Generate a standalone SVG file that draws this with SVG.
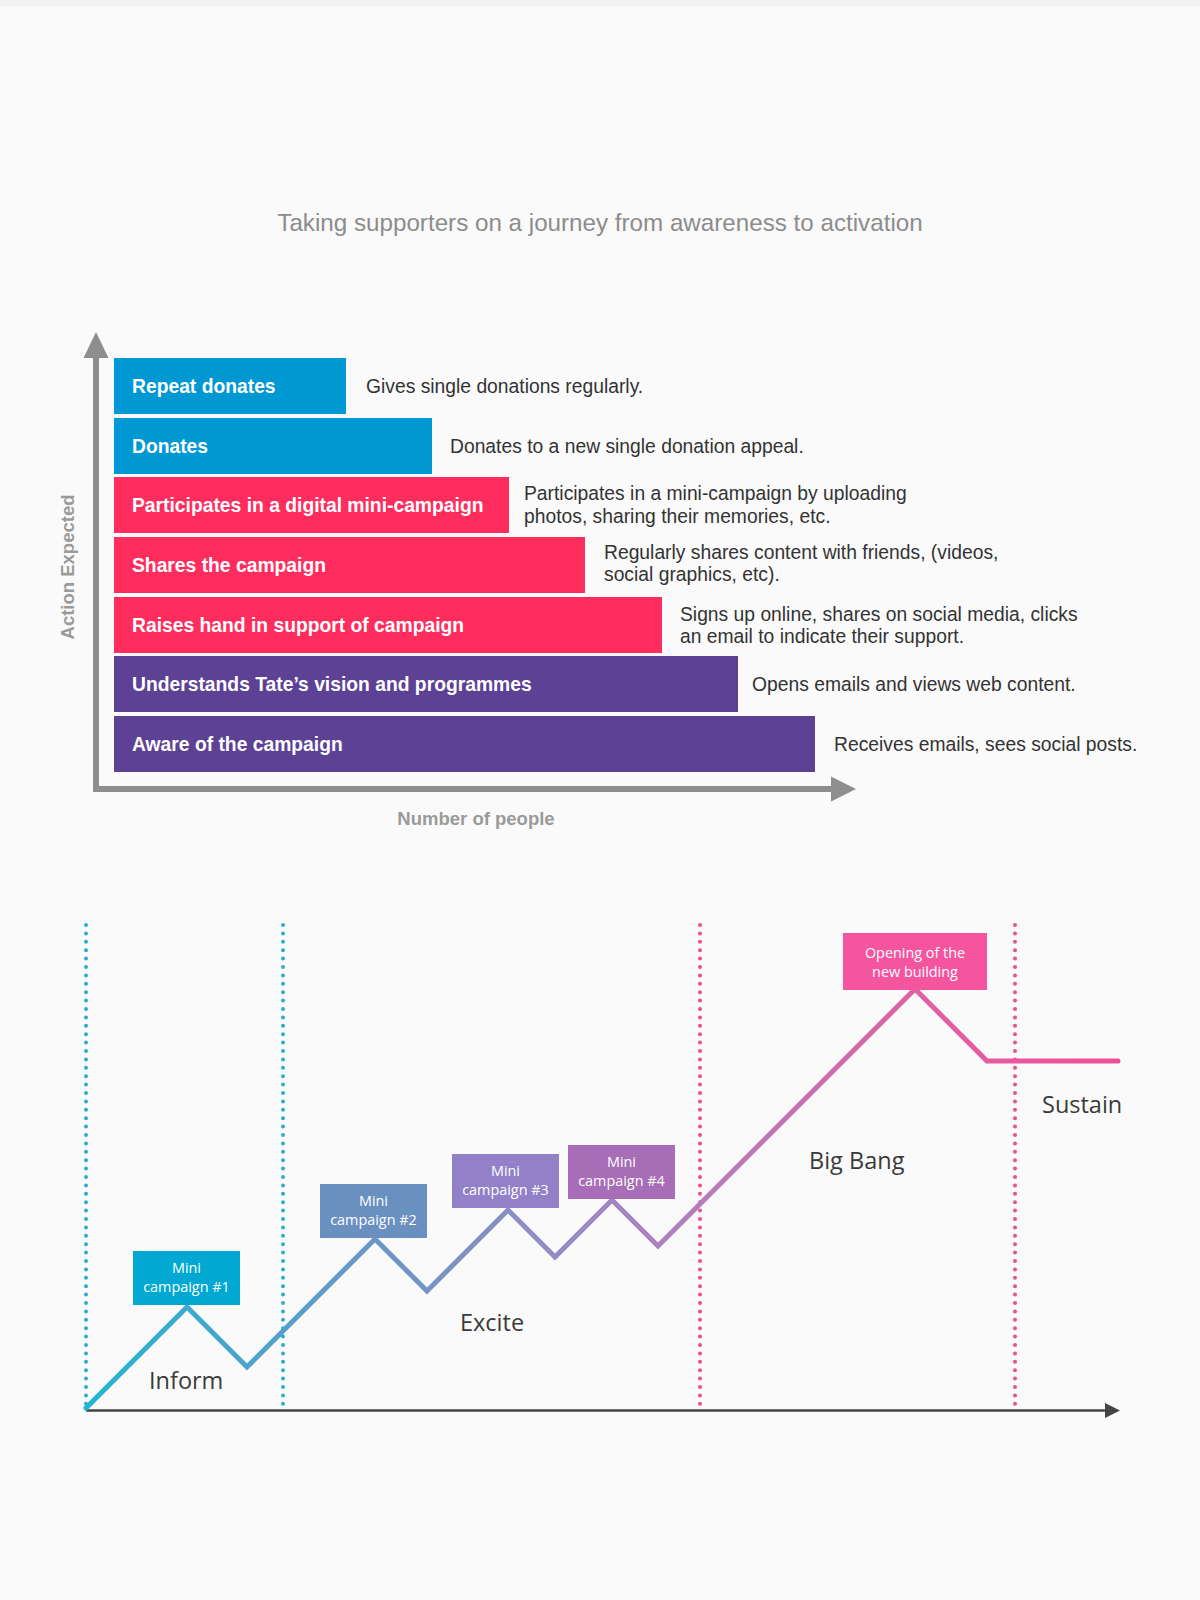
<svg xmlns="http://www.w3.org/2000/svg" width="1200" height="1600" viewBox="0 0 1200 1600">
<style>
.bar-label{font-family:"Liberation Sans",Arial,sans-serif;font-weight:bold;font-size:19.3px;fill:#ffffff}
.desc{font-family:"Liberation Sans",Arial,sans-serif;font-size:19.3px;fill:#333333}
.axis-label{font-family:"Liberation Sans",Arial,sans-serif;font-weight:bold;font-size:18.5px;fill:#9a9a9a}
.box-text{font-family:"Open Sans","Noto Sans",sans-serif;font-size:14.4px;fill:#ffffff;text-anchor:middle}
.phase{font-family:"Open Sans","Noto Sans",sans-serif;font-size:23.5px;fill:#3a3a3a}
.blue{fill:#0098d2}
.pink{fill:#ff2c5e}
.purple{fill:#5d4195}
.dots-teal{stroke:#2aaec8;stroke-width:4;stroke-linecap:round;stroke-dasharray:0 8.4;fill:none}
.dots-pink{stroke:#ef4d90;stroke-width:4;stroke-linecap:round;stroke-dasharray:0 8.4;fill:none}
</style>
<defs>
<linearGradient id="journey" gradientUnits="userSpaceOnUse" x1="86" y1="0" x2="1118" y2="0">
<stop offset="0" stop-color="#22b6d2"/>
<stop offset="0.28" stop-color="#6b96c6"/>
<stop offset="0.48" stop-color="#998ac4"/>
<stop offset="0.6" stop-color="#b57cbb"/>
<stop offset="0.82" stop-color="#e25fa3"/>
<stop offset="1" stop-color="#f04f96"/>
</linearGradient>
</defs>
<rect x="0" y="0" width="1200" height="1600" fill="#fafafa"/>
<rect x="0" y="0" width="1200" height="6" fill="#f2f2f2"/>

<text x="600" y="231" text-anchor="middle" style="font-family:'Liberation Sans',Arial,sans-serif;font-size:24.2px;fill:#8c8c8c">Taking supporters on a journey from awareness to activation</text>

<g id="axes-top">
<path d="M96 357 V789 H832" fill="none" stroke="#8e8e8e" stroke-width="6"/>
<polygon points="96,332 83.5,358 108.5,358" fill="#8e8e8e"/>
<polygon points="856,789 831,776.5 831,801.5" fill="#8e8e8e"/>
<text class="axis-label" transform="translate(74 567) rotate(-90)" text-anchor="middle">Action Expected</text>
<text class="axis-label" x="476" y="825" text-anchor="middle">Number of people</text>
</g>

<g id="bar-repeat-donates">
<rect class="blue" x="114" y="358" width="232" height="56"/>
<text class="bar-label" x="132" y="393">Repeat donates</text>
<text class="desc" x="366" y="393">Gives single donations regularly.</text>
</g>
<g id="bar-donates">
<rect class="blue" x="114" y="418" width="318" height="56"/>
<text class="bar-label" x="132" y="453">Donates</text>
<text class="desc" x="450" y="453">Donates to a new single donation appeal.</text>
</g>
<g id="bar-participates">
<rect class="pink" x="114" y="477" width="395" height="56"/>
<text class="bar-label" x="132" y="512">Participates in a digital mini-campaign</text>
<text class="desc" x="524" y="500">Participates in a mini-campaign by uploading</text>
<text class="desc" x="524" y="523">photos, sharing their memories, etc.</text>
</g>
<g id="bar-shares">
<rect class="pink" x="114" y="537" width="471" height="56"/>
<text class="bar-label" x="132" y="572">Shares the campaign</text>
<text class="desc" x="604" y="559">Regularly shares content with friends, (videos,</text>
<text class="desc" x="604" y="581">social graphics, etc).</text>
</g>
<g id="bar-raises-hand">
<rect class="pink" x="114" y="597" width="548" height="56"/>
<text class="bar-label" x="132" y="632">Raises hand in support of campaign</text>
<text class="desc" x="680" y="621">Signs up online, shares on social media, clicks</text>
<text class="desc" x="680" y="643">an email to indicate their support.</text>
</g>
<g id="bar-understands">
<rect class="purple" x="114" y="656" width="624" height="56"/>
<text class="bar-label" x="132" y="691">Understands Tate’s vision and programmes</text>
<text class="desc" x="752" y="691">Opens emails and views web content.</text>
</g>
<g id="bar-aware">
<rect class="purple" x="114" y="716" width="701" height="56"/>
<text class="bar-label" x="132" y="751">Aware of the campaign</text>
<text class="desc" x="834" y="751">Receives emails, sees social posts.</text>
</g>

<g id="phase-dividers">
<line class="dots-teal" x1="86" y1="925" x2="86" y2="1405"/>
<line class="dots-teal" x1="283" y1="925" x2="283" y2="1405"/>
<line class="dots-pink" x1="700" y1="925" x2="700" y2="1405"/>
<line class="dots-pink" x1="1015" y1="925" x2="1015" y2="1405"/>
</g>

<g id="connectors">
<line x1="86" y1="1410.5" x2="1107" y2="1410.5" stroke="#444444" stroke-width="2.5"/>
<polygon points="1120,1410.5 1105,1403 1105,1418" fill="#444444"/>
<polyline points="86,1408 187,1307 247,1367 375,1239 427,1291 508,1210 555,1257 612,1200 658,1246 915,989 987,1061 1118,1061" fill="none" stroke="url(#journey)" stroke-width="5" stroke-linejoin="miter" stroke-linecap="round"/>
</g>

<g id="mini-campaign-1">
<rect x="133" y="1251" width="107" height="54" fill="#00a8d2"/>
<text class="box-text" x="186.5" y="1273">Mini</text>
<text class="box-text" x="186.5" y="1292">campaign #1</text>
</g>
<g id="mini-campaign-2">
<rect x="320" y="1184" width="107" height="54" fill="#6a90c0"/>
<text class="box-text" x="373.5" y="1206">Mini</text>
<text class="box-text" x="373.5" y="1225">campaign #2</text>
</g>
<g id="mini-campaign-3">
<rect x="452" y="1154" width="107" height="54" fill="#9281c8"/>
<text class="box-text" x="505.5" y="1176">Mini</text>
<text class="box-text" x="505.5" y="1195">campaign #3</text>
</g>
<g id="mini-campaign-4">
<rect x="568" y="1145" width="107" height="54" fill="#a76db6"/>
<text class="box-text" x="621.5" y="1167">Mini</text>
<text class="box-text" x="621.5" y="1186">campaign #4</text>
</g>
<g id="opening-new-building">
<rect x="843" y="933" width="144" height="57" fill="#f4559e"/>
<text class="box-text" x="915" y="958">Opening of the</text>
<text class="box-text" x="915" y="977">new building</text>
</g>

<g id="phase-labels">
<text class="phase" x="149" y="1389">Inform</text>
<text class="phase" x="460" y="1331">Excite</text>
<text class="phase" x="809" y="1169">Big Bang</text>
<text class="phase" x="1042" y="1113">Sustain</text>
</g>
</svg>
